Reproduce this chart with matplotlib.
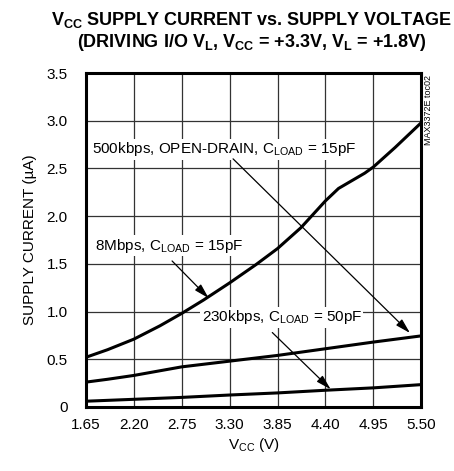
import matplotlib
matplotlib.use("Agg")
import matplotlib.pyplot as plt

plt.rcParams['font.family'] = ['Liberation Sans', 'DejaVu Sans']
plt.rcParams['mathtext.fontset'] = 'custom'
plt.rcParams['mathtext.rm'] = 'Liberation Sans'
plt.rcParams['mathtext.bf'] = 'Liberation Sans:bold'

# supply voltage (V) and supply current (uA)
v_8m = [1.65, 1.90, 2.20, 2.50, 2.75, 3.00, 3.30, 3.60, 3.85, 4.12, 4.40, 4.55, 4.70, 4.85, 4.95, 5.20, 5.50]
i_8m = [0.52, 0.60, 0.71, 0.85, 0.98, 1.12, 1.30, 1.49, 1.66, 1.88, 2.16, 2.29, 2.37, 2.45, 2.515, 2.72, 2.98]

v_500k = [1.65, 1.90, 2.20, 2.75, 3.30, 3.85, 4.40, 4.95, 5.50]
i_500k = [0.26, 0.29, 0.33, 0.42, 0.48, 0.54, 0.61, 0.68, 0.745]

v_230k = [1.65, 2.20, 2.75, 3.30, 3.85, 4.40, 4.95, 5.50]
i_230k = [0.06, 0.08, 0.10, 0.125, 0.147, 0.175, 0.20, 0.234]

x_ticks = [1.65, 2.20, 2.75, 3.30, 3.85, 4.40, 4.95, 5.50]
y_ticks = [0, 0.5, 1.0, 1.5, 2.0, 2.5, 3.0, 3.5]
y_ticklabels = ['0', '0.5', '1.0', '1.5', '2.0', '2.5', '3.0', '3.5']

fig = plt.figure(figsize=(4.54, 4.71), dpi=100)
ax = fig.add_axes([0.189, 0.136, 0.739, 0.709])

for v, i in [(v_8m, i_8m), (v_500k, i_500k), (v_230k, i_230k)]:
    ax.plot(v, i, color='black', lw=2.2, solid_capstyle='butt', zorder=3)

ax.set_xlim(1.65, 5.50)
ax.set_ylim(0, 3.5)
ax.set_xticks(x_ticks)
ax.set_xticklabels([f'{x:.2f}' for x in x_ticks])
ax.set_yticks(y_ticks)
ax.set_yticklabels(y_ticklabels)
ax.tick_params(length=0, labelsize=11)
ax.tick_params(axis='x', pad=8)
ax.tick_params(axis='y', pad=13)
ax.grid(True, color='#333333', lw=0.9)
for s in ax.spines.values():
    s.set_linewidth(2.2)

ax.set_xlabel(r'V$_{\mathregular{CC}}$ (V)', fontsize=11, labelpad=3)
ax.set_ylabel('SUPPLY CURRENT (µA)', fontsize=11, labelpad=7)

fig.text(0.555, 0.957, r'V$_{\mathregular{CC}}$ SUPPLY CURRENT vs. SUPPLY VOLTAGE',
         ha='center', va='center', fontsize=13, fontweight='bold')
fig.text(0.555, 0.91, r'(DRIVING I/O V$_{\mathregular{L}}$, V$_{\mathregular{CC}}$ = +3.3V, V$_{\mathregular{L}}$ = +1.8V)',
         ha='center', va='center', fontsize=13, fontweight='bold')

ax.text(5.535, 3.48, 'MAX3372E toc02', rotation=90, ha='left', va='top', fontsize=6.5,
        transform=ax.transData, clip_on=False)

box = dict(facecolor='white', edgecolor='none', pad=1)
arrow = dict(arrowstyle='-|>,head_length=0.9,head_width=0.25', color='black', lw=0.9,
             shrinkA=0, shrinkB=0)

ax.text(1.72, 2.70, r'500kbps, OPEN-DRAIN, C$_{\mathregular{LOAD}}$ = 15pF', fontsize=11,
        va='center', ha='left', bbox=box, zorder=4)
ax.annotate('', xy=(5.37, 0.775), xytext=(3.34, 2.60), arrowprops=arrow, zorder=4)

ax.text(1.75, 1.69, r'8Mbps, C$_{\mathregular{LOAD}}$ = 15pF', fontsize=11,
        va='center', ha='left', bbox=box, zorder=4)
ax.annotate('', xy=(3.06, 1.14), xytext=(2.64, 1.53), arrowprops=arrow, zorder=4)

ax.text(2.98, 0.94, r'230kbps, C$_{\mathregular{LOAD}}$ = 50pF', fontsize=11,
        va='center', ha='left', bbox=box, zorder=4)
ax.annotate('', xy=(4.46, 0.185), xytext=(3.79, 0.78), arrowprops=arrow, zorder=4)

fig.savefig('out.png', dpi=100)
